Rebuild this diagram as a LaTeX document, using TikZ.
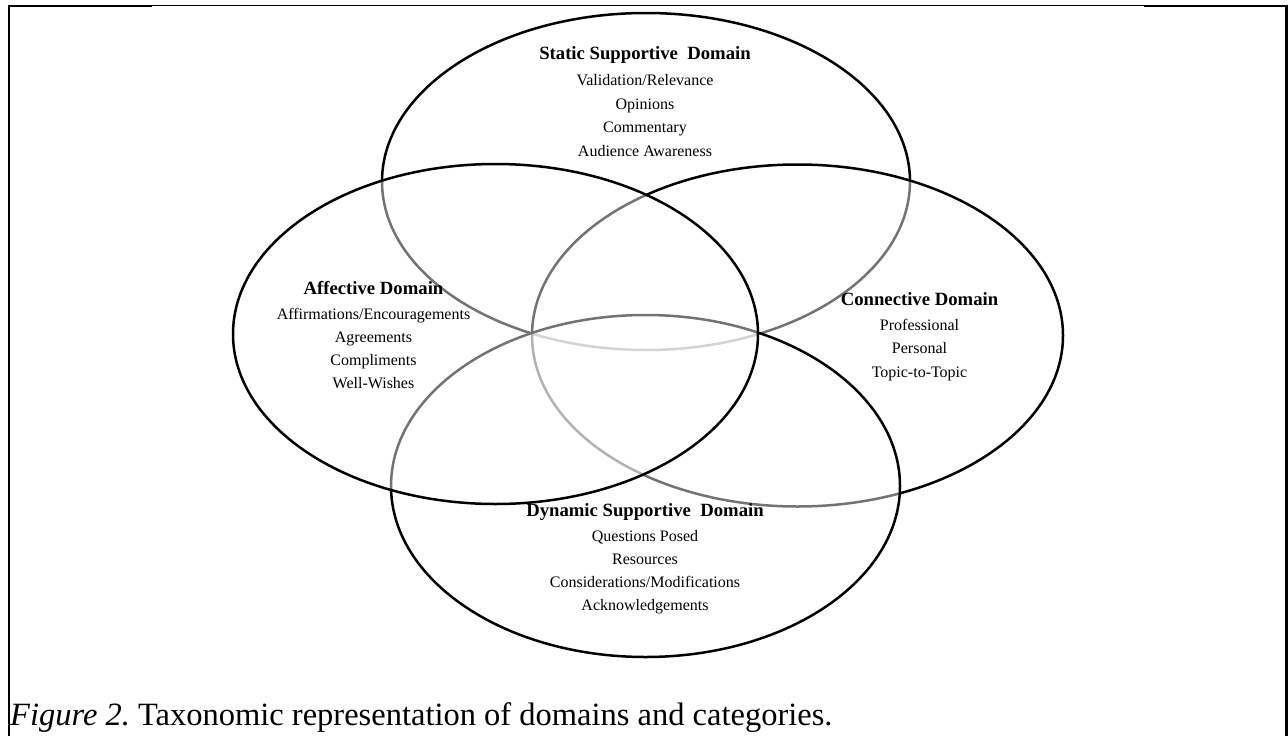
\documentclass[tikz,border=0pt]{standalone}
\usepackage{fontspec}
\setmainfont{Liberation Serif}
\usetikzlibrary{shapes.geometric}
\frenchspacing
\tikzset{
  venn/.style={ellipse, draw=black, line width=2.5pt, fill=white, fill opacity=0.45, inner sep=0pt, outer sep=0pt},
  ttl/.style={anchor=base, font=\fontsize{18.7}{20}\selectfont\bfseries, inner sep=0pt},
  itm/.style={anchor=base, font=\fontsize{16}{18}\selectfont, inner sep=0pt},
  frame/.style={draw=black, line cap=butt}
}
\begin{document}
\begin{tikzpicture}[x=1pt,y=-1pt]
\useasboundingbox (0,0) rectangle (1288,736);
% frame
\draw[frame, line width=1pt] (9,5.7) -- (1287,5.7);
\draw[frame, line width=2pt] (9,5.5) -- (152,5.5);
\draw[frame, line width=2pt] (1144,5.5) -- (1287,5.5);
\draw[frame, line width=2pt] (9,4.5) -- (9,736);
\draw[frame, line width=3pt] (1286.5,4.5) -- (1286.5,736);
% ellipses (drawing order: static, connective, dynamic, affective)
\node[venn, minimum width=528pt, minimum height=337pt] (static) at (646,181.5) {};
\node[venn, minimum width=531pt, minimum height=342pt] (connective) at (797.5,335.5) {};
\node[venn, minimum width=509pt, minimum height=342pt] (dynamic) at (645.5,486) {};
\node[venn, minimum width=525pt, minimum height=340pt] (affective) at (495.5,334) {};
% static texts
\node[ttl] (s0) at (645,59.5) {Static Supportive\ \ Domain};
\node[itm] (s1) at (645,85.5) {Validation/Relevance};
\node[itm] (s2) at (645,109) {Opinions};
\node[itm] (s3) at (645,132.5) {Commentary};
\node[itm] (s4) at (645,156) {Audience Awareness};
% affective texts
\node[ttl] (a0) at (373.5,294.5) {Affective Domain};
\node[itm] (a1) at (373.5,319.5) {Affirmations/Encouragements};
\node[itm] (a2) at (373.5,342.5) {Agreements};
\node[itm] (a3) at (373.5,365.5) {Compliments};
\node[itm] (a4) at (373.5,388.5) {Well-Wishes};
% connective texts
\node[ttl] (c0) at (919.5,305.5) {Connective Domain};
\node[itm] (c1) at (919.5,330) {Professional};
\node[itm] (c2) at (919.5,353.5) {Personal};
\node[itm] (c3) at (919.5,377) {Topic-to-Topic};
% dynamic texts
\node[ttl] (d0) at (645,516.5) {Dynamic Supportive\ \ Domain};
\node[itm] (d1) at (645,541.5) {Questions Posed};
\node[itm] (d2) at (645,564.5) {Resources};
\node[itm] (d3) at (645,587.5) {Considerations/Modifications};
\node[itm] (d4) at (645,610) {Acknowledgements};
% caption
\node[anchor=base west, inner sep=0pt, font=\fontsize{32.5}{36}\selectfont] (cap) at (10,725) {\textit{Figure 2.} Taxonomic representation of domains and categories.};
\end{tikzpicture}
\end{document}
